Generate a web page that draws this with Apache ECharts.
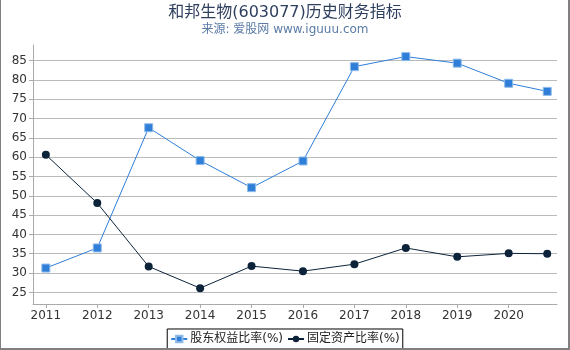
<!DOCTYPE html>
<html><head><meta charset="utf-8">
<script src="https://cdn.jsdelivr.net/npm/echarts@6/dist/echarts.min.js"></script>
<style>
html,body{margin:0;padding:0;background:#fff;}
#wrap{position:absolute;left:0;top:0;width:567px;height:348px;border-left:1px solid #808080;border-right:2px solid #808080;border-bottom:2px solid #808080;}
#c{width:570px;height:350px;position:absolute;left:0;top:0;}
</style></head>
<body>
<div id="c"></div>
<div id="wrap"></div>
<script>
const years = [2011, 2012, 2013, 2014, 2015, 2016, 2017, 2018, 2019, 2020, 2020.75];
const yearLabels = [2011, 2012, 2013, 2014, 2015, 2016, 2017, 2018, 2019, 2020];
const equityRatio = [31.3, 36.5, 67.6, 59.1, 52.1, 59.0, 83.4, 86.0, 84.3, 79.1, 77.0];
const fixedAssetRatio = [60.6, 48.1, 31.7, 26.1, 31.8, 30.5, 32.3, 36.5, 34.2, 35.1, 35.0];
const yTicks = [25, 30, 35, 40, 45, 50, 55, 60, 65, 70, 75, 80, 85];
const seriesNames = ['股东权益比率(%)', '固定资产比率(%)'];

const chart = echarts.init(document.getElementById('c'));
const font = '"DejaVu Sans", "Noto Sans CJK SC", sans-serif';
chart.setOption({
  animation: false,
  textStyle: {fontFamily: font},
  title: {
    text: '和邦生物(603077)历史财务指标',
    subtext: '来源: 爱股网 www.iguuu.com',
    left: 'center', top: 0,
    itemGap: 3,
    textStyle: {fontSize: 16, fontWeight: 'normal', color: '#2e3f5e', fontFamily: font},
    subtextStyle: {fontSize: 12, color: '#5b7ba6', fontFamily: font}
  },
  legend: {
    bottom: 1, left: 'center',
    data: seriesNames,
    borderColor: '#000', borderWidth: 1, borderRadius: 0,
    padding: [4, 3, 4, 3],
    itemGap: 4, itemWidth: 16, itemHeight: 8,
    textStyle: {fontSize: 12, color: '#222', fontFamily: font, padding: [0, 0, 0, -2]}
  },
  grid: {left: 33, right: 13, top: 45, bottom: 46, containLabel: false},
  xAxis: {
    type: 'value', min: 2010.75, max: 2020.94,
    axisLine: {lineStyle: {color: '#aaa'}},
    axisTick: {customValues: yearLabels, length: 4, lineStyle: {color: '#aaa'}},
    axisLabel: {customValues: yearLabels, color: '#333', fontSize: 12, margin: 6, formatter: v => String(v)},
    splitLine: {show: false}
  },
  yAxis: {
    type: 'value', min: 22, max: 89,
    axisLine: {show: true, lineStyle: {color: '#aaa'}},
    axisTick: {show: true, customValues: yTicks, length: 4, lineStyle: {color: '#aaa'}},
    axisLabel: {customValues: yTicks, color: '#333', fontSize: 12, margin: 6},
    splitLine: {show: true, lineStyle: {color: '#bbb', width: 1}}
  },
  series: [
    {
      name: seriesNames[0], type: 'line',
      data: years.map((x, i) => [x, equityRatio[i]]),
      symbol: 'rect', symbolSize: 8,
      itemStyle: {color: '#2f7ed8', borderColor: '#8fbbe9', borderWidth: 1},
      lineStyle: {color: '#2f7ed8', width: 1}
    },
    {
      name: seriesNames[1], type: 'line',
      data: years.map((x, i) => [x, fixedAssetRatio[i]]),
      symbol: 'circle', symbolSize: 8,
      itemStyle: {color: '#0d233a'},
      lineStyle: {color: '#0d233a', width: 1}
    }
  ]
});
</script>
</body></html>
